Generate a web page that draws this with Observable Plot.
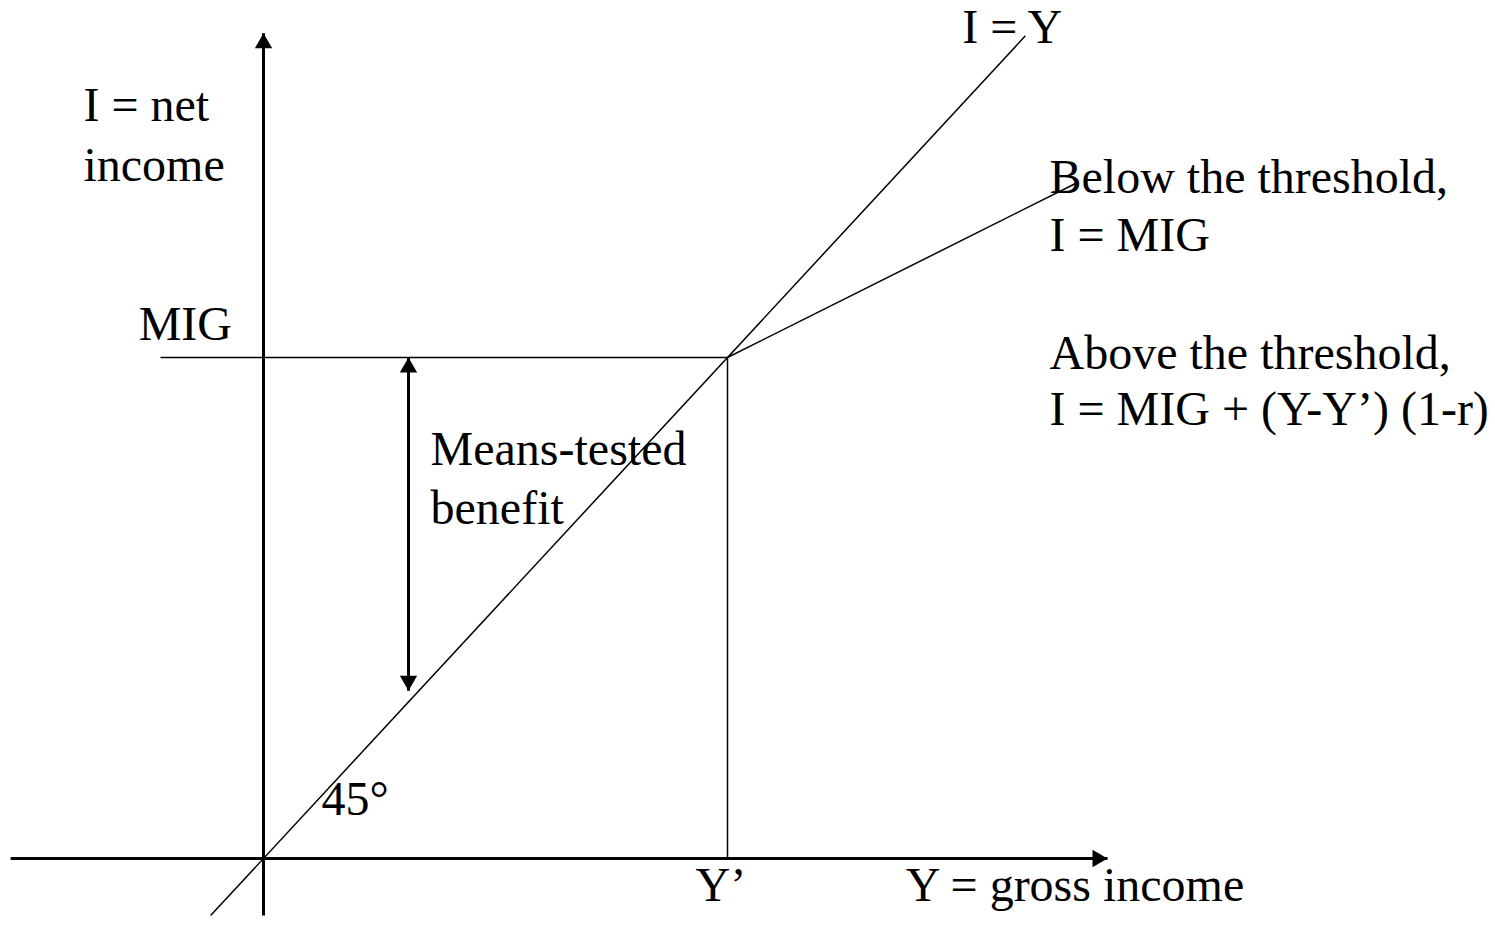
<!DOCTYPE html>
<html><head><meta charset="utf-8">
<script src="https://cdn.jsdelivr.net/npm/d3@7"></script>
<script src="https://cdn.jsdelivr.net/npm/@observablehq/plot@0.6"></script>
<style>html,body{margin:0;padding:0;background:#fff;} #chart svg{display:block;}</style>
</head><body><div id="chart"></div>
<script>
// Model units: gross income Y' = 1 on the horizontal axis, MIG = 1 on the vertical axis
const thresholdY = 1;              // Y'
const MIG = 1;                     // minimum income guarantee
const taperRate = 0.537;           // r (withdrawal rate above threshold)
const grossExtent = [-0.545, 1.819];   // drawn extent of Y axis line (gross income)
const netExtent = [-0.114, 1.647];     // drawn extent of I axis line (net income)
const identityExtent = [-0.114, 1.642];// I = Y line extent
const taperEnd = 1.75;             // end of the post-threshold schedule
const migLineStart = -0.222;       // MIG guide starts left of the axis
const benefitArrowX = 0.3125;      // position of the means-tested benefit arrow
const benefitArrowLow = 0.335;     // lower tip of that arrow

// Annotation texts and their anchors (model units, baseline-left)
const labels = ["I = Y", "I = net", "income", "MIG", "Below the threshold,", "I = MIG",
  "Above the threshold,", "I = MIG + (Y-Y\u2019) (1-r)", "Means-tested", "benefit", "45\u00B0",
  "Y\u2019", "Y = gross income"];
const labelX = [1.506, -0.388, -0.388, -0.269, 1.694, 1.694, 1.694, 1.694, 0.360, 0.360, 0.125, 0.931, 1.384];
const labelY = [1.627, 1.473, 1.353, 1.034, 1.329, 1.212, 0.978, 0.866, 0.786, 0.667, 0.086, -0.084, -0.084];

const W = 1495, H = 937;
const thick = [
  {x1: grossExtent[0], y1: 0, x2: grossExtent[1], y2: 0},
  {x1: 0, y1: netExtent[0], x2: 0, y2: netExtent[1]},
  {x1: benefitArrowX, y1: benefitArrowLow, x2: benefitArrowX, y2: MIG}
];
const thin = [
  {x1: identityExtent[0], y1: identityExtent[0], x2: identityExtent[1], y2: identityExtent[1]},
  {x1: migLineStart, y1: MIG, x2: thresholdY, y2: MIG},
  {x1: thresholdY, y1: 0, x2: thresholdY, y2: MIG},
  {x1: thresholdY, y1: MIG, x2: taperEnd, y2: MIG + (taperEnd - thresholdY) * (1 - taperRate)}
];
const upHeads = [{x: 0, y: netExtent[1]}, {x: benefitArrowX, y: MIG}];
const rightHeads = [{x: grossExtent[1], y: 0}];
const downHeads = [{x: benefitArrowX, y: benefitArrowLow}];
const idx = labels.map((d, i) => i);

const headR = 6.43;
const chart = Plot.plot({
  width: W, height: H,
  marginTop: 0, marginRight: 0, marginBottom: 0, marginLeft: 0,
  x: {domain: [-263 / 464, (W - 263) / 464], axis: null},
  y: {domain: [(858 - H) / 501, 858 / 501], axis: null},
  style: {background: "#fff", color: "#000"},
  marks: [
    Plot.link(thin, {x1: "x1", y1: "y1", x2: "x2", y2: "y2", stroke: "#000", strokeWidth: 1.5}),
    Plot.link(thick, {x1: "x1", y1: "y1", x2: "x2", y2: "y2", stroke: "#000", strokeWidth: 3}),
    Plot.dot(upHeads, {x: "x", y: "y", symbol: "triangle", r: headR, fill: "#000", stroke: "none", dy: 10}),
    Plot.dot(rightHeads, {x: "x", y: "y", symbol: "triangle", r: headR, fill: "#000", stroke: "none", rotate: 90, dx: -10}),
    Plot.dot(downHeads, {x: "x", y: "y", symbol: "triangle", r: headR, fill: "#000", stroke: "none", rotate: 180, dy: -10}),
    Plot.text(idx, {x: i => labelX[i], y: i => labelY[i], text: i => labels[i],
      textAnchor: "start", lineAnchor: "bottom", fontSize: 48,
      fontFamily: "'Liberation Serif', 'Times New Roman', serif", fill: "#000"})
  ]
});
document.getElementById("chart").appendChild(chart);
</script>
</body></html>
